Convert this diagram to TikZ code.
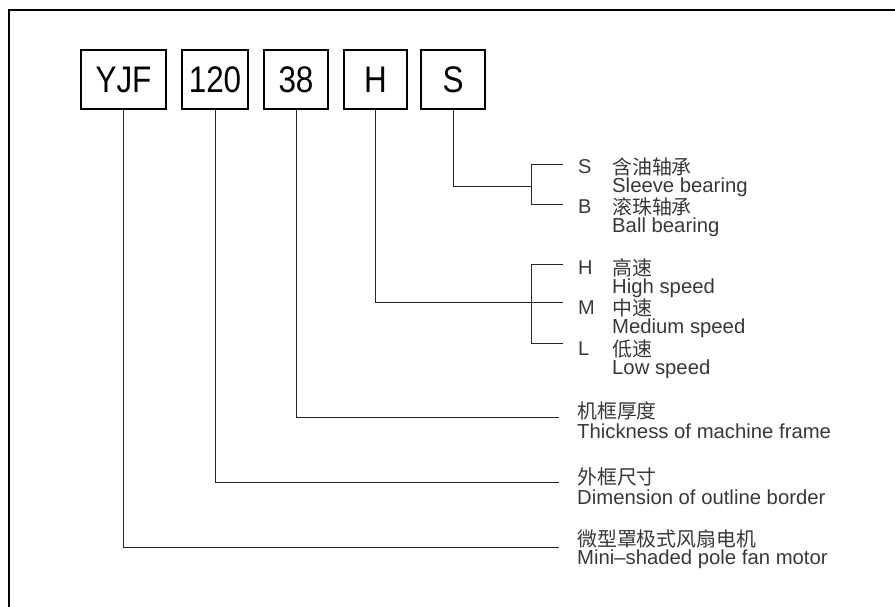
\documentclass[tikz,border=0pt]{standalone}
\usepackage{fontspec}
\setmainfont{Liberation Sans}
\newfontfamily\cjk{Noto Sans CJK SC}
\newfontfamily\codefont[FakeStretch=0.85]{Liberation Sans}
\usetikzlibrary{positioning}
\definecolor{inkgray}{rgb}{0.22,0.22,0.22}
\tikzset{
  codebox/.style={draw=black,line width=1.4pt,inner sep=0pt,minimum height=59pt,font=\codefont\fontsize{37}{40}\selectfont},
  letterlabel/.style={anchor=west,inner sep=0pt,text=inkgray,font=\fontsize{20}{20}\selectfont},
  cnlabel/.style={anchor=west,inner sep=0pt,text=inkgray,font=\cjk\fontsize{19.9}{20}\selectfont},
  enlabel/.style={anchor=west,inner sep=0pt,text=inkgray,font=\fontsize{20.3}{20}\selectfont},
  leader/.style={draw=black!85,line width=0.9pt}
}
\begin{document}
\begin{tikzpicture}[x=1pt,y=-1pt]
				\useasboundingbox (0,0) rectangle (895,607);
				\draw[line width=1.8pt] (895,10)--(9,10)--(9,607);
				% model code boxes
				\node[codebox,minimum width=85pt] (yjf) at (123.5,79.5) {YJF};
				\node[codebox,minimum width=66pt] (size) at (215,79.5) {120};
				\node[codebox,minimum width=64pt] (thick) at (296,79.5) {38};
				\node[codebox,minimum width=63pt] (speed) at (375.5,79.5) {H};
				\node[codebox,minimum width=64pt] (bearing) at (453,79.5) {S};
				% bearing choice
				\coordinate (sleeve) at (563,164);
				\coordinate (ball) at (563,204);
				\coordinate (bj) at (531,186);
				\draw[leader] (sleeve)--++(-32,0) |- (ball);
				\draw[leader] (bearing.south) |- (bj);
				\node[letterlabel] (ls) at (578,167) {S};
				\node[cnlabel] (cs) at (612,167) {含油轴承};
				\node[enlabel] (es) at (612,187) {Sleeve bearing};
				\node[letterlabel] (lb) at (578,207) {B};
				\node[cnlabel] (cb) at (612,207) {滚珠轴承};
				\node[enlabel] (eb) at (612,227) {Ball bearing};
				% speed choice
				\coordinate (high) at (563,264);
				\coordinate (medium) at (563,302);
				\coordinate (low) at (563,343);
				\draw[leader] (high)--++(-32,0) |- (low);
				\draw[leader] (speed.south) |- (medium);
				\node[letterlabel] (lh) at (578,268) {H};
				\node[cnlabel] (ch) at (612,268) {高速};
				\node[enlabel] (eh) at (612,288) {High speed};
				\node[letterlabel] (lm) at (578,308) {M};
				\node[cnlabel] (cm) at (612,308) {中速};
				\node[enlabel] (em) at (612,328) {Medium speed};
				\node[letterlabel] (ll) at (578,349) {L};
				\node[cnlabel] (cl) at (612,349) {低速};
				\node[enlabel] (el) at (612,369) {Low speed};
				% frame, border, motor
				\coordinate (thickend) at (559,417);
				\coordinate (sizeend) at (559,482);
				\coordinate (motorend) at (559,547);
				\draw[leader] (thick.south) |- (thickend);
				\draw[leader] (size.south) |- (sizeend);
				\draw[leader] (yjf.south) |- (motorend);
				\node[cnlabel] (ct) at (577,411) {机框厚度};
				\node[enlabel] (et) at (577,431) {Thickness of machine frame};
				\node[cnlabel] (cd) at (577,477) {外框尺寸};
				\node[enlabel] (ed) at (577,497) {Dimension of outline border};
				\node[cnlabel] (cf) at (577,539) {微型罩极式风扇电机};
				\node[enlabel] (ef) at (577,559) {Mini\textendash shaded pole fan motor};
			\end{tikzpicture}
\end{document}
